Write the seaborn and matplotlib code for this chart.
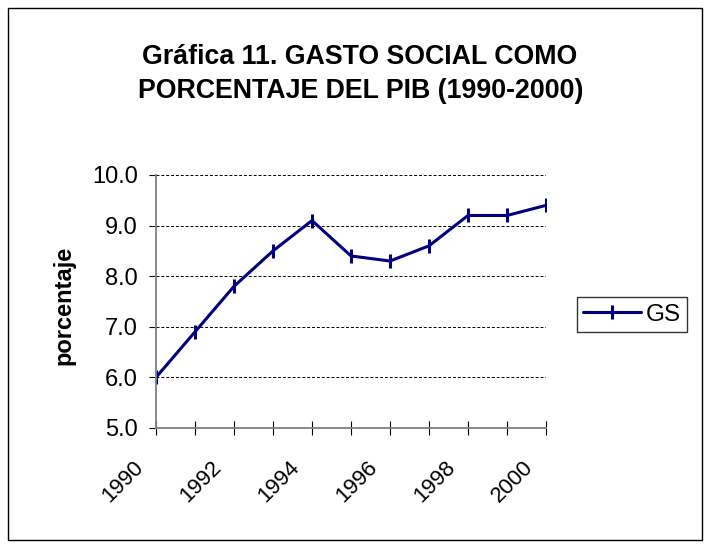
import matplotlib
matplotlib.use("Agg")
import matplotlib.pyplot as plt
import matplotlib.transforms as mtransforms
import seaborn as sns
import pandas as pd
from matplotlib.patches import Rectangle
from matplotlib.lines import Line2D

years = [1990, 1991, 1992, 1993, 1994, 1995, 1996, 1997, 1998, 1999, 2000]
gs_values = [6.0, 6.9, 7.8, 8.5, 9.1, 8.4, 8.3, 8.6, 9.2, 9.2, 9.4]
y_ticks = [5.0, 6.0, 7.0, 8.0, 9.0, 10.0]
series_name = "GS"
title_lines = ["Gráfica 11. GASTO SOCIAL COMO", "PORCENTAJE DEL PIB (1990-2000)"]

sns.set_theme(style="white")
plt.rcParams['font.family'] = ['Liberation Sans', 'DejaVu Sans']
plt.rcParams['text.color'] = 'black'
plt.rcParams['xtick.color'] = 'black'
plt.rcParams['ytick.color'] = 'black'
plt.rcParams['axes.labelcolor'] = 'black'

NAVY = "#000080"
df = pd.DataFrame({"year": years, "value": gs_values, "serie": series_name})

fig = plt.figure(figsize=(7.1, 5.48), dpi=100)
ax = fig.add_axes([156/710, 1 - 428/548, (546-156)/710, (428-175)/548])

sns.lineplot(data=df, x="year", y="value", hue="serie", palette=[NAVY],
             marker="|", markersize=10, markeredgewidth=2.2, markeredgecolor=NAVY,
             linewidth=2.2, ax=ax, legend=False)

ax.set_xlim(years[0], years[-1])
ax.set_ylim(y_ticks[0], y_ticks[-1])
ax.set_yticks(y_ticks)
ax.set_yticklabels([f"{v:.1f}" for v in y_ticks], fontsize=17)
ax.set_xticks(years)
ax.set_xticklabels([str(y) if (y - years[0]) % 2 == 0 else "" for y in years],
                   rotation=45, ha="right", va="center", rotation_mode="anchor", fontsize=16)
ax.tick_params(axis="x", bottom=True, direction="inout", length=9.5, width=0.8, color="black", pad=0)
ax.tick_params(axis="y", left=True, direction="out", length=5, width=0.8, color="black", pad=8)

offset = mtransforms.ScaledTranslation(-11.5/72, -21.5/72, fig.dpi_scale_trans)
for lab in ax.get_xticklabels():
    lab.set_transform(lab.get_transform() + offset)

for v in y_ticks[1:]:
    ax.axhline(v, color="black", linestyle=(0, (3, 2)), linewidth=0.7, zorder=0)

for s in ["top", "right"]:
    ax.spines[s].set_visible(False)
for s in ["left", "bottom"]:
    ax.spines[s].set_color("#808080")
    ax.spines[s].set_linewidth(1.3)

ax.set_xlabel("")
ax.set_ylabel("porcentaje", fontsize=17, fontweight="bold")
ax.yaxis.set_label_coords((75 - 156) / 390, (428 - 305) / 253)

fig.text(360/710, 1 - 64/548, title_lines[0], ha="center", va="baseline",
         fontsize=19.3, fontweight="bold")
fig.text(361/710, 1 - 98/548, title_lines[1], ha="center", va="baseline",
         fontsize=19.3, fontweight="bold")

handle = Line2D([], [], color=NAVY, marker="|", markersize=10, markeredgewidth=2.2, linewidth=2.2)
leg = fig.legend([handle], [series_name], loc="center", bbox_to_anchor=(632/710, 1 - 314.5/548),
                 fontsize=17.5, frameon=True, fancybox=False, edgecolor="black",
                 handlelength=2.4, borderpad=0.25, handletextpad=0.2, borderaxespad=0)
leg.get_frame().set_linewidth(1.0)

fig.patches.append(Rectangle((8/710, 8/548), 694/710, 532/548, transform=fig.transFigure,
                             fill=False, edgecolor="black", linewidth=1.0))

fig.savefig("out.png", dpi=100)
